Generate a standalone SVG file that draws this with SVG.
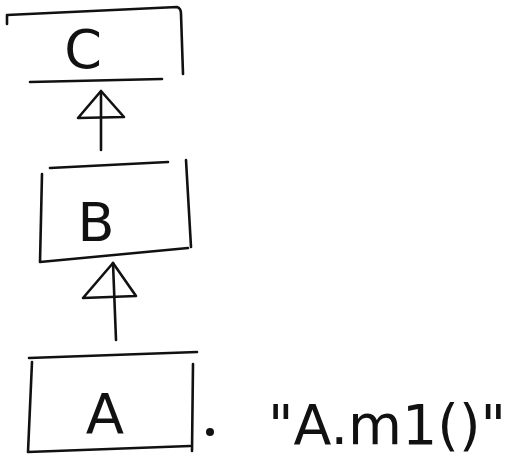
<svg xmlns="http://www.w3.org/2000/svg" width="508" height="461" viewBox="0 0 508 461">
<style>
.ln{fill:none;stroke:#111;stroke-width:2.6;stroke-linecap:round;stroke-linejoin:round}
.lb{font-family:"DejaVu Sans","Liberation Sans",sans-serif;fill:#111;font-weight:normal}
</style>
<rect width="508" height="461" fill="#fff"/>
<g id="C">
<path class="ln" d="M7,15 L177,7 Q181,8 181,14 L183,74"/>
<path class="ln" d="M7,16 L7,24"/>
<path class="ln" d="M30,82 L162,79"/>
<text class="lb" x="83" y="68" font-size="54" text-anchor="middle">C</text>
</g>
<g id="B">
<path class="ln" d="M50,168 L168,162"/>
<path class="ln" d="M42,174 L40,262 L188,248"/>
<path class="ln" d="M186,160 L191,247"/>
<text class="lb" x="96" y="241" font-size="54" text-anchor="middle">B</text>
</g>
<g id="A">
<path class="ln" d="M29,358 L197,352"/>
<path class="ln" d="M32,362 L28,452 L190,446"/>
<path class="ln" d="M193,364 L192,451"/>
<text class="lb" x="105" y="433" font-size="56" text-anchor="middle">A</text>
</g>
<g id="connectors">
<path class="ln" d="M101,150 L101,92"/>
<path class="ln" d="M78,118 L101,91 L124,117 Z"/>
<path class="ln" d="M116,340 L113,263"/>
<path class="ln" d="M83,298 L113,263 L136,296 Z"/>
</g>
<g id="call">
<circle cx="210" cy="432" r="4" fill="#111"/>
<text class="lb" x="268" y="444" font-size="56" textLength="238" lengthAdjust="spacingAndGlyphs">"A.m1()"</text>
</g>
</svg>
